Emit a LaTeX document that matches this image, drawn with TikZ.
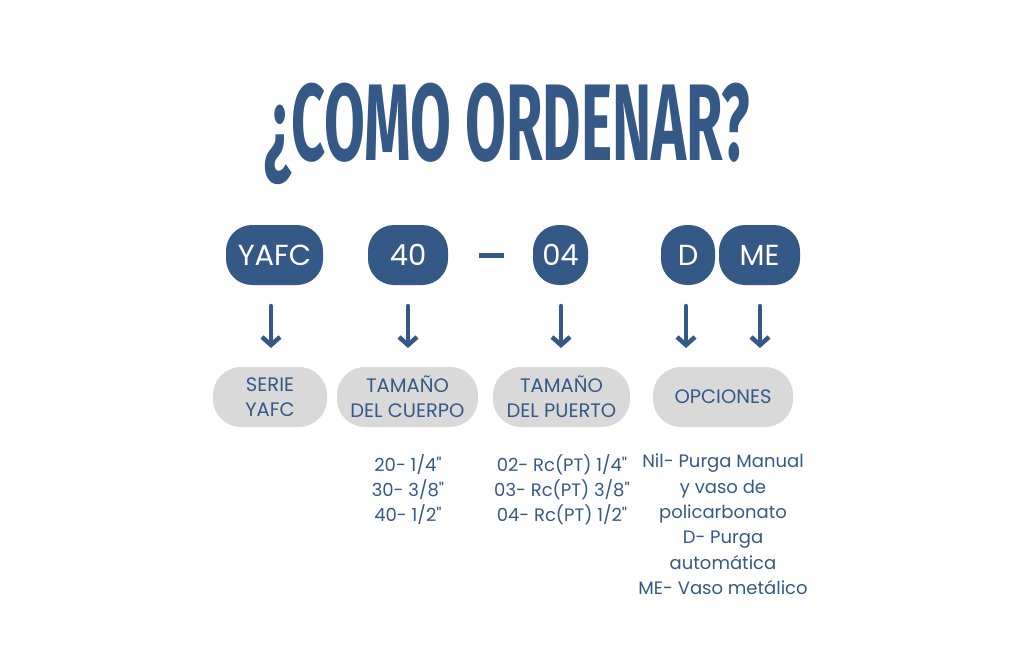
\documentclass[tikz,border=0pt]{standalone}
\usepackage{fontspec}
\newfontfamily\bodyfont{Poppins}
\newfontfamily\titlefont{Fira Sans}
\usetikzlibrary{arrows.meta}
\definecolor{navy}{RGB}{52,89,135}
\definecolor{pillgray}{RGB}{217,217,217}
\begin{document}
\begin{tikzpicture}[x=1pt,y=-1pt,
  darkpill/.style={fill=navy, text=white, rounded corners=26pt, minimum height=60pt, inner sep=0pt, font=\bodyfont\fontsize{29}{32}\selectfont},
  graypill/.style={fill=pillgray, text=navy, rounded corners=28pt, minimum height=60pt, inner sep=0pt, align=center, font=\bodyfont\fontsize{19.5}{25}\selectfont},
  listtext/.style={text=navy, align=center, inner sep=0pt, anchor=north, font=\bodyfont\fontsize{18}{25.3}\selectfont},
  arr/.style={draw=navy, line width=4.5pt, line cap=round, line join=round, -{Straight Barb[length=8pt,width=18pt]}}
]
\useasboundingbox (0,0) rectangle (1024,663);
\fill[white] (0,0) rectangle (1024,663);

% title
\node[anchor=base west, inner sep=0pt, text=navy] (title) at (264,161)
  {\resizebox{486pt}{\height}{\fontsize{109}{109}\titlefont\bfseries ¿COMO ORDENAR?}};

% code pills
\node[darkpill, minimum width=97pt] (yafc) at (274.5,255) {YAFC};
\node[darkpill, minimum width=80pt] (c40) at (408,255) {40};
\node[fill=navy, minimum width=25pt, minimum height=5pt, inner sep=0pt] (dash) at (491.5,255) {};
\node[darkpill, minimum width=55pt] (c04) at (560.5,255) {04};
\node[darkpill, minimum width=54pt] (cd) at (688,255) {D};
\node[darkpill, minimum width=81pt] (cme) at (759.5,255) {ME};

% arrows
\foreach \i/\x in {1/271,2/408,3/561,4/686,5/760}{
  \coordinate (as\i) at (\x,306);
  \coordinate (ae\i) at (\x,348);
}
\foreach \i in {1,...,5}{ \draw[arr] (as\i) -- (ae\i); }

% gray pills
\node[graypill, minimum width=114pt] (serie) at (270,397) {SERIE\\YAFC};
\node[graypill, minimum width=141pt] (cuerpo) at (407.5,397) {TAMAÑO\\DEL CUERPO};
\node[graypill, minimum width=137pt] (puerto) at (561.5,397) {TAMAÑO\\DEL PUERTO};
\node[graypill, minimum width=140pt] (opciones) at (723,397) {OPCIONES};

% lists
\node[listtext] (l1) at (408,454) {20- 1/4"\\30- 3/8"\\40- 1/2"};
\node[listtext] (l2) at (562,454) {02- Rc(PT) 1/4"\\03- Rc(PT) 3/8"\\04- Rc(PT) 1/2"};
\node[listtext] (l3) at (723,454) {Nil- Purga Manual\\y vaso de\\policarbonato\\D- Purga\\automática\\ME- Vaso metálico};
\end{tikzpicture}
\end{document}
